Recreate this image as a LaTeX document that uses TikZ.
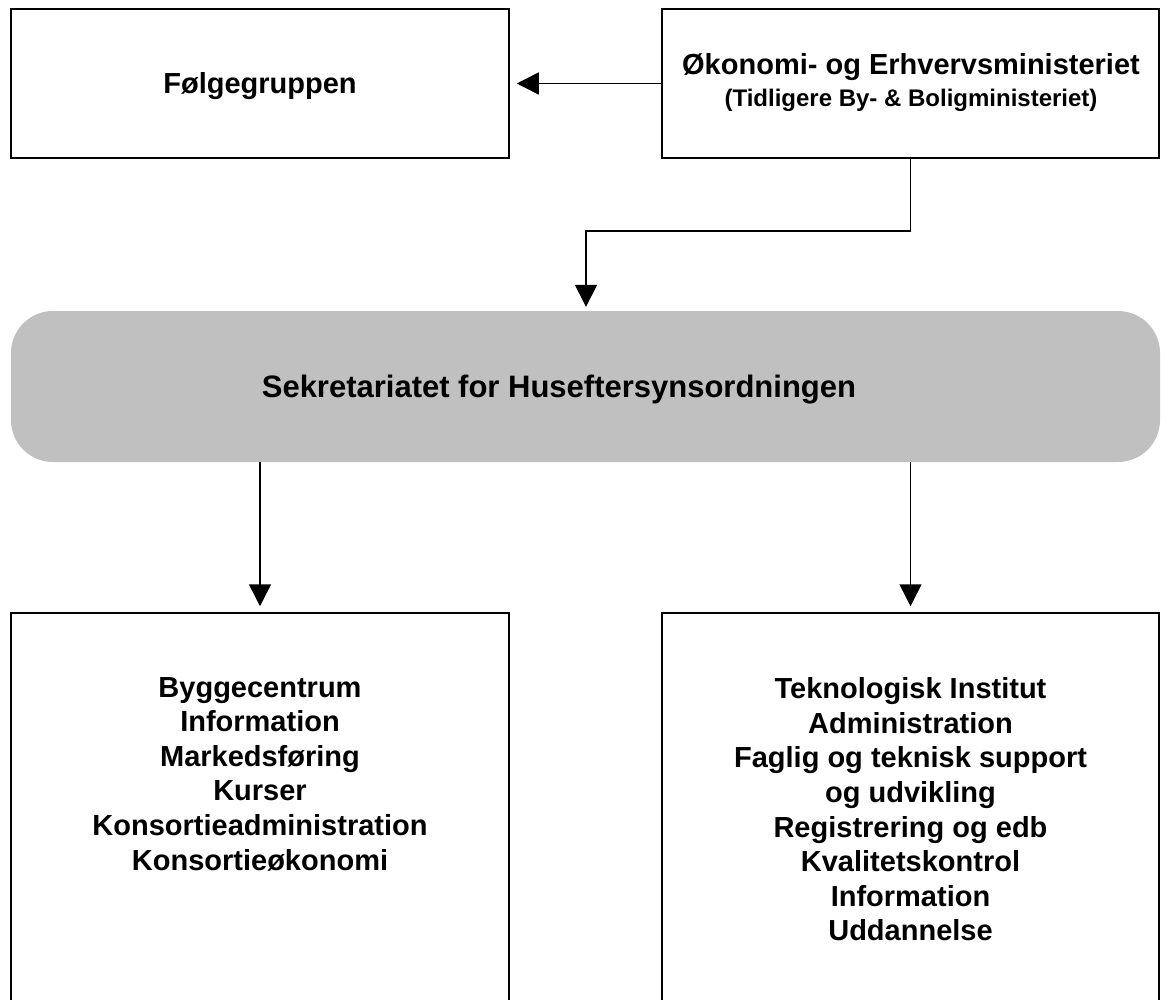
\documentclass[tikz,border=0pt]{standalone}
\usepackage{fontspec}
\setmainfont{Liberation Sans}
\usetikzlibrary{arrows.meta}
\definecolor{panelgray}{HTML}{C0C0C0}
\begin{document}
\begin{tikzpicture}[x=1pt,y=-1pt,
  box/.style={draw=black, line width=1.5pt, minimum width=498pt, minimum height=149pt, inner sep=0pt},
  tallbox/.style={box, minimum height=430pt},
  big/.style={font=\bfseries\fontsize{29}{34.6}\selectfont, align=center, inner sep=0pt},
  small/.style={font=\bfseries\fontsize{24}{28}\selectfont, align=center, inner sep=0pt},
  conn/.style={line width=1.5pt, -{Triangle[length=22pt,width=22pt]}},
]
\useasboundingbox (0,0) rectangle (1166,1000);
\clip (0,0) rectangle (1166,1000);

% boxes
\node[box] (fg) at (260,83.5) {};
\node[box, minimum width=497pt] (ok) at (910.5,83.5) {};
\node[fill=panelgray, rounded corners=42pt, minimum width=1149pt, minimum height=151pt, inner sep=0pt] (sek) at (585.5,386.5) {};
\node[tallbox] (lb) at (260,828) {};
\node[tallbox, minimum width=497pt] (rb) at (910.5,828) {};

% texts
\node[big, anchor=base] (fgt) at (260,94) {Følgegruppen};
\node[big, anchor=base] (okt) at (911,75) {Økonomi- og Erhvervsministeriet};
\node[small, anchor=base] (oks) at (911,107) {(Tidligere By- \& Boligministeriet)};
\node[big, font=\bfseries\fontsize{31}{36}\selectfont, anchor=base] (sekt) at (559,397) {Sekretariatet for Huseftersynsordningen};
\node[big] (lbt) at (260,774) {Byggecentrum\\Information\\Markedsføring\\Kurser\\Konsortieadministration\\Konsortieøkonomi};
\node[big] (rbt) at (910.5,809.5) {Teknologisk Institut\\Administration\\Faglig og teknisk support\\og udvikling\\Registrering og edb\\Kvalitetskontrol\\Information\\Uddannelse};

% connectors
\coordinate (bend) at (586,231);
\draw[conn, shorten >=7pt] (ok.west) -- (fg.east);
\draw[conn, shorten >=4pt] (ok.south) |- (bend) -- (bend |- sek.north);
\draw[conn, shorten >=6pt] (lb.north |- sek.south) -- (lb.north);
\draw[conn, shorten >=6pt] (rb.north |- sek.south) -- (rb.north);
\end{tikzpicture}
\end{document}
